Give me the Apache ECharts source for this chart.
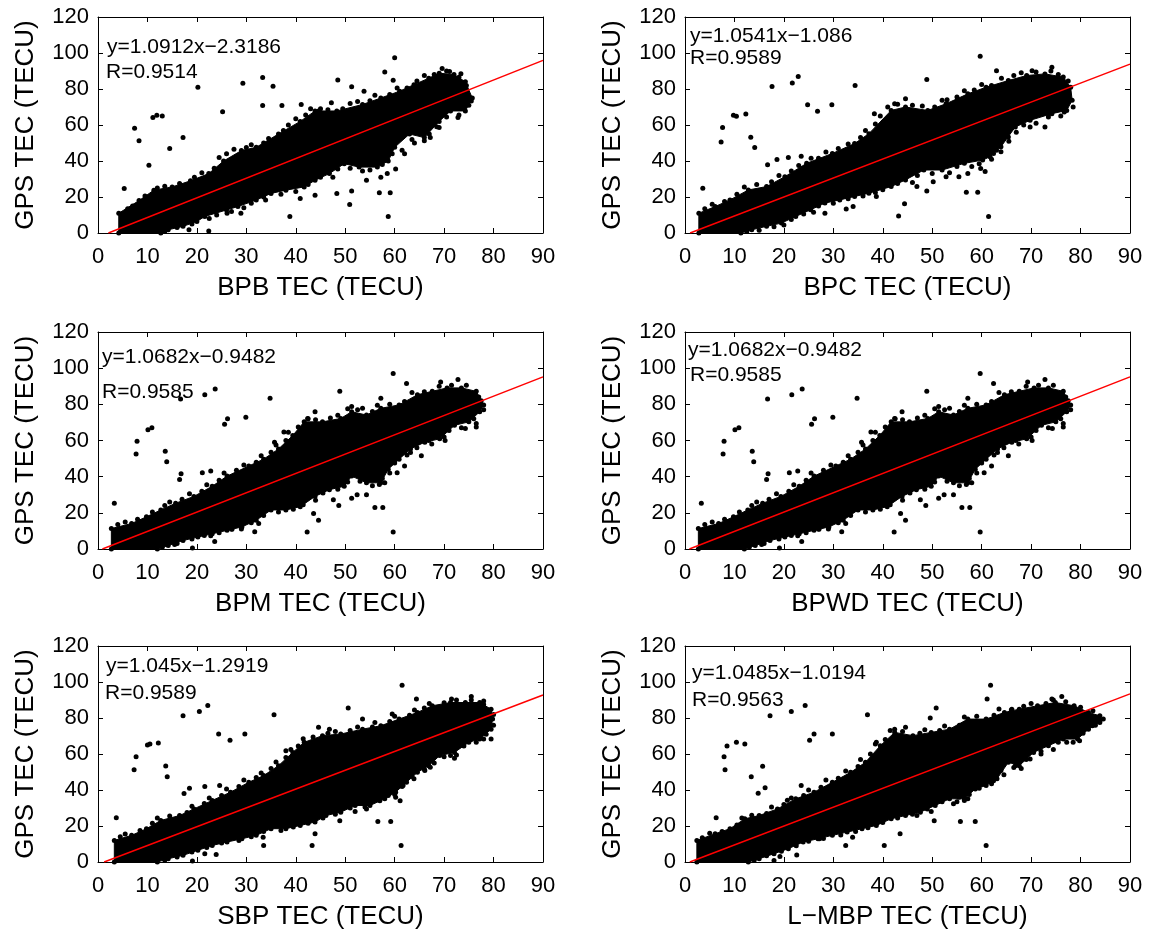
<!DOCTYPE html>
<html><head><meta charset="utf-8">
<script src="https://cdn.jsdelivr.net/npm/echarts@6/dist/echarts.min.js"></script>
<style>html,body{margin:0;padding:0;background:#fff}#c{width:1150px;height:931px}</style>
</head><body><div id="c"></div>
<script>
// ---------- data ----------
const xAxisNames = ['BPB TEC (TECU)','BPC TEC (TECU)','BPM TEC (TECU)','BPWD TEC (TECU)','SBP TEC (TECU)','L\u2212MBP TEC (TECU)'];
const yAxisName = 'GPS TEC (TECU)';
const equations = ['y=1.0912x\u22122.3186','y=1.0541x\u22121.086','y=1.0682x\u22120.9482','y=1.0682x\u22120.9482','y=1.045x\u22121.2919','y=1.0485x\u22121.0194'];
const rValues = ['R=0.9514','R=0.9589','R=0.9585','R=0.9585','R=0.9589','R=0.9563'];
const xTicks = [0,10,20,30,40,50,60,70,80,90];
const yTicks = [0,20,40,60,80,100,120];

// ---- BPB ----
const coreBPB = [[4.2,0],[4.2,11],[8.3,18],[11.3,23.8],[15,25.6],[18.7,29],[22.4,33],[25.4,40],[29,45.8],[32,47.6],[36.5,55],[40.9,62],[43.9,67.8],[48.3,67.8],[53.5,71.4],[57.2,75],[61,78.8],[63.9,82.4],[66.9,86],[69,88.8],[72,88],[74.3,84],[75.7,75],[74.3,67.8],[71.3,67.8],[69,62],[66,53],[63,55],[60,47.6],[58.7,40],[56.5,36.6],[52.8,36.6],[49.8,38.5],[46.8,33],[43.9,29.3],[41.7,25.6],[38,23.8],[35,22],[32,18.3],[28.3,14.7],[26,12.8],[21.6,9.2],[20,6.4],[17.2,3.7],[14.2,1.8],[12.7,0]];
const edgeBPB = [[6,13.5],[7,15],[9.5,20.5],[12,25],[13.5,26],[16.5,27.5],[19.5,31],[21,33.5],[23.5,36],[24.5,42],[26,44],[27.5,46.5],[30,47.5],[31,49],[33.5,50],[34.5,52.5],[37.5,57],[38.5,60],[40,63.5],[42,65.5],[43,69],[45,69],[46.5,68.5],[49.5,69],[51,72],[52.5,73],[55,73.5],[56,76.5],[59,77],[60.5,80.5],[62.5,80.5],[64.5,84.5],[66,87.5],[68,88],[70.5,90],[73,86.5],[74.5,82],[75,71],[73,65.5],[70.5,64.5],[68.5,59],[67,55],[65,56.5],[63.5,52],[61.5,46],[59.5,44],[57.5,38],[55,35],[53.5,34.5],[51,36],[48.5,35.5],[47.5,31],[45,31],[42.5,27],[40,23],[37,21.5],[33.5,20],[31,16.5],[29.5,14],[27,12],[24,10],[22.5,8],[19,5],[16,3],[13.5,0.8]];
const ptsBPB = [[5.3,24.7],[7.4,58.2],[8.3,51.3],[10.3,37.7],[11.1,64.1],[11.9,65.4],[13,65],[14.5,47],[17.2,53.1],[20.2,81],[25.2,67.4],[29.3,83.2],[33.3,70.9],[33.3,86.4],[35.4,81.5],[37.2,70.9],[41.1,71.4],[38.8,9.2],[60,97.4],[58,89.4],[59.7,84.8],[48.5,85],[51.3,81.3],[58.7,9.2],[59.1,22.3],[56.9,22.3],[50.9,15.8],[53.8,78.8],[69.6,91.4],[71.1,89.7],[73.4,88.5],[22.4,1.1],[18.4,1.8],[26.1,11],[28.9,11],[51.3,23.3],[48.3,22],[43.9,21],[40.9,19.2],[33.9,18.3],[54.3,29.3],[57.2,31],[65.4,60.4],[67.2,53.1],[69,58.6],[66,51.3],[72.8,64.1],[75.5,73.3],[54.3,55.9],[44.6,67.8],[47.2,72.3],[58.5,33],[60.2,35.5],[64,50],[62,44]];
const fitBPB = [[2.1,0],[90,95.9]];

// ---- BPC ----
const coreBPC = [[2.8,0],[2.8,11],[6.1,14.7],[9.1,18.4],[12.8,23.9],[16.5,25.8],[20.2,31.3],[24.6,38.7],[29.8,44.2],[34.3,49.7],[37.2,55.2],[41.7,68.1],[44.6,70],[49.1,68.1],[52.8,71.8],[57.2,77.3],[60.9,81],[65.4,84.7],[69.1,87.5],[72.8,88.4],[76.5,86.6],[78,81],[78.3,73.7],[77.2,68.1],[74.2,66.3],[69.8,62.6],[66.8,58.9],[63.9,47.9],[61.7,42.4],[60.2,40.5],[56.5,38.7],[52,35],[48.3,35],[44.6,29.5],[41.7,25.8],[37.2,22.1],[34.3,20.3],[31.3,18.4],[28.3,16.6],[25.4,12.9],[22.4,9.2],[19.5,5.5],[16.5,3.7],[13.5,1.8],[11.3,0]];
const edgeBPC = [[4,13.5],[5.5,16],[8,17.5],[10.5,21.5],[12,25.5],[14.5,27],[17.5,28.5],[19,32],[21.5,34.5],[23,37.5],[25.5,41.5],[27,41.5],[28.5,45],[31,47],[33,49.5],[35.5,53],[36.5,57],[38.5,60.5],[39.5,65],[41,70],[43,71.5],[46,71],[48,70.5],[50.5,70],[53,74],[55,75.5],[56.5,79],[58.5,79.5],[60,82.5],[62,82],[64,86],[66.5,87.5],[68,89],[71,89.5],[74,90],[75.5,88],[77.5,84.5],[78.5,70],[76,65],[73.5,64.5],[71,61],[68.5,60],[67,56],[65.5,51],[63,46],[62,41],[59.5,38.5],[58,37],[55,37],[53.5,33.5],[50,33],[47,32],[46,28],[43,27.5],[40,24],[38.5,22.5],[36,20.5],[33,19],[30,16.5],[27,15],[26,11.5],[24,10.5],[21.5,7.5],[20,4.5],[18,3.5],[15,1.5],[12.5,0.8]];
const ptsBPC = [[3.6,24.9],[7.3,50.6],[7.6,58.6],[9.8,65.4],[10.4,64.8],[12.3,66.1],[13.3,53.2],[14.1,47.5],[16.7,37.9],[17.6,81.4],[18.6,40.9],[20.9,42],[21.7,83.4],[22.9,86.9],[23.5,42.7],[24.8,71.3],[26.8,67.6],[29.7,71.3],[34.4,82],[28.3,11],[32.6,13.4],[34,14.7],[43.2,9.4],[44.4,16.2],[48.9,23.4],[48.9,85.3],[59.7,98.2],[61.4,9.2],[59.2,22.7],[56.9,22.7],[63,90.2],[70.2,90.2],[74.2,92.1],[60.7,34.1],[59.8,35.9],[57.2,33.1],[55.4,31.3],[52.8,31.3],[50.2,28.5],[46.9,25.8],[40.9,26.7],[38.7,20.3],[29.8,22.5],[62.4,44.2],[63.9,45.1],[65.4,53.4],[69.8,58.9],[72.8,58.9],[73.5,66.3],[76.7,67.2],[70.5,79.2],[52,73.7],[44.6,74.6],[42.4,71.8],[38.3,66.3]];
const fitBPC = [[1.03,0],[90,93.8]];

// ---- BPM ----
const coreBPM = [[2.7,0],[2.7,11.3],[6.8,14.1],[9.8,17.8],[12.7,21.6],[15.7,25.3],[19.4,29.1],[23.1,34.7],[26.1,40.3],[30.5,45.9],[33.5,49.7],[36.5,55.3],[39.4,62.8],[41.7,70.3],[45.4,70.3],[49.1,72.2],[51.3,75.9],[54.3,74.1],[57.2,77.8],[60.9,79.7],[64.6,85.3],[67.6,87.2],[70.6,89.1],[73.5,89.1],[76.5,87.2],[78,79.7],[77.2,75.9],[75,70.3],[72.1,68.4],[69.1,60.9],[66.1,59.1],[63.2,55.3],[60.9,49.7],[58.7,44.1],[57.2,36.6],[54.3,36.6],[51.3,40.3],[49.8,34.7],[46.8,32.8],[43.9,29.1],[40.9,23.4],[38,21.6],[35,21.6],[32,15.9],[29.1,12.2],[26.1,10.3],[23.1,8.4],[20.2,6.6],[17.2,4.7],[14.2,1.9],[12,0]];
const edgeBPM = [[4,13.5],[5.5,15],[8,16.5],[11,20.5],[13.5,24],[14.5,26],[17,27.5],[18.5,30.5],[21,32],[22,35.5],[24.5,38],[25.5,42],[28,43.5],[29.5,46.5],[32,48],[33,51.5],[35,53.5],[36,57.5],[38,60],[38.5,64.5],[40.5,67.5],[42.5,72],[44,71.5],[47,72.5],[48.5,74],[50.5,77.5],[52.5,77],[55.5,76],[56.5,79.5],[59,80],[62,81.5],[63.5,86.5],[66,87],[69,90],[71.5,90.5],[74.5,90.5],[77,84],[77.5,82],[78,77],[76,72],[73.5,67],[71,65.5],[70,62],[67.5,58],[64.5,56],[62.5,52],[60,47.5],[59,42],[57.5,39],[55.5,35],[53,37.5],[50.5,37],[48.5,33],[45.5,31],[44,27],[41.5,24.5],[39.5,22],[36.5,20.5],[33.5,18.5],[31,14.5],[29,11],[27,11],[24.5,9],[21.5,7.5],[19,5.5],[16,3],[13,1],[15.5,2.5]];
const ptsBPM = [[3.3,25.3],[7.7,52.5],[7.9,59.6],[10.1,66],[10.9,67.1],[13.6,54],[13.9,48.2],[16.5,38.4],[16.8,41.6],[16.7,83],[21.1,42.2],[22.8,43.1],[21.6,85.3],[23.7,88.5],[25.6,69],[26.2,72],[29.9,72.8],[34.8,83.4],[31.7,9.6],[32.5,14.1],[27.1,10.9],[22.8,7.3],[23.6,4.1],[19.1,0.5],[42.3,9.4],[44.6,15.9],[48.7,24],[48.9,87.2],[59.7,97.1],[59.7,9.4],[57.6,22.9],[56,22.9],[62.4,91.5],[69.3,92.3],[72.8,93.8],[62,45.9],[60.5,42.2],[58,36.6],[56.9,35.6],[52.4,30],[54.3,30],[51.3,28.1],[47.6,27.2],[43.6,19.7],[31.3,15.9],[63.2,53.4],[65.4,51.6],[66.9,60],[70.2,60],[74.3,66.6],[76.5,69.4],[76.5,67.5],[51.3,78.8],[53.5,77.8],[57.2,83.4],[43.9,75.9],[42.4,72.2],[37.6,64.7],[35.7,59.1]];
const fitBPM = [[0.89,0],[90,95.2]];

// ---- BPWD (the picture shows the same cloud as BPM) ----
const coreBPWD = coreBPM.slice();
const edgeBPWD = edgeBPM.slice();
const ptsBPWD = ptsBPM.slice();
const fitBPWD = [[0.89,0],[90,95.2]];

// ---- SBP ----
const coreSBP = [[3.3,0],[3.3,12],[6.8,14.8],[9.8,18.5],[12.7,23.1],[16.5,25.8],[19.4,29.5],[23.1,34.2],[26.8,38.8],[30.5,44.3],[33.5,48],[36.5,53.5],[39.4,60.9],[41.7,66.5],[45.4,70.2],[49.1,71.1],[53.5,73.8],[57.2,75.7],[60.9,79.4],[64.6,83.1],[67.6,86.8],[71.3,88.6],[74.3,88.6],[77.2,88.6],[79.5,84.9],[79.8,79.4],[79.5,73.8],[77.2,68.3],[75,66.5],[72.1,60.9],[69.1,59.1],[66.9,53.5],[64.6,49.8],[62.4,44.3],[60.2,38.8],[58,35.1],[55,31.4],[52,31.4],[49.1,27.7],[46.1,25.8],[43.9,22.2],[40.9,20.3],[38,18.5],[35,18.5],[32,14.8],[29.1,12.9],[26.1,11.1],[23.1,9.2],[20.2,6.5],[17.2,3.7],[14.2,1.8],[12,0]];
const edgeSBP = [[4.5,14],[5.5,15.5],[8.5,17.5],[11,21.5],[12,24.5],[14.5,25.5],[18,27.5],[19,31],[21.5,32.5],[22.5,35.5],[25,37],[26,40.5],[28.5,42],[29.5,45.5],[32,47],[33,49.5],[35,52],[36,55.5],[38,58],[39,62.5],[40.5,64.5],[41.5,68.5],[43.5,69.5],[46.5,71.5],[48,72.5],[51,73],[52.5,75],[55.5,75],[56,77.5],[59,78],[60,81],[63,81.5],[64,84.5],[66,85.5],[67,88],[70,88.5],[72.5,90],[75.5,90],[78,87.5],[80,82],[80,76],[78.5,71],[76.5,66.5],[74,64.5],[72.5,59.5],[70,58.5],[68,55],[66,51.5],[63.5,47.5],[61.5,42],[60,37.5],[57,34],[54,30.5],[51,30],[48,26.5],[45.5,24.5],[42.5,21.5],[39.5,19.5],[37,17.5],[33.5,17],[31,14],[28.5,12],[25,10.5],[22,8],[19,5.5],[16,2.8],[13.5,1]];
const ptsSBP = [[3.7,24.6],[7.3,51.3],[7.7,58.5],[10,65],[10.5,65.5],[12.2,66.1],[13.7,53.4],[14,47.4],[17.4,38],[17.2,81.2],[18.5,41],[20.5,83.6],[22.2,86.9],[21.6,41.9],[24.6,42.5],[24.4,71.1],[26.7,67.7],[29.7,71.1],[35.6,81.8],[33.5,9.2],[33.4,13.8],[27.6,13.8],[23.9,4.1],[21.6,4.6],[19.1,0.6],[43.3,9.2],[43.9,15.7],[48.9,22.9],[50.6,85.5],[61.5,98.2],[61.3,9.2],[59.2,22.5],[56.6,22.5],[64.4,90.5],[71.5,90.5],[75.5,91.9],[78,89.5],[61.1,34],[60.2,36],[58.7,36.9],[57.2,38.8],[54.3,29.5],[52,28.1],[47.6,28.1],[45.4,25.8],[61.7,42.5],[63.9,46.2],[66.1,50.8],[67.2,52.6],[71.3,59.1],[72.1,57.6],[76.5,69.2],[78,68.3],[79.5,68.3],[53.5,79.4],[59.5,82.2],[44.6,74.8],[46.8,73.8],[38,61.8]];
const fitSBP = [[1.24,0],[90,92.8]];

// ---- L-MBP ----
const coreLMBP = [[2.4,0],[2.4,12],[6.1,15.7],[9.1,18.5],[12.1,24],[15,25.8],[18.7,29.5],[22.4,35.1],[26.1,38.8],[29.8,44.3],[33.5,49.8],[36.5,55.4],[39.5,64.6],[42.4,72],[46.1,70.2],[49.8,72],[53.5,73.8],[57.2,79.4],[60.9,79.4],[64.6,83.1],[67.6,84.9],[71.3,86.8],[74.9,88.6],[78.7,86.8],[81.6,83.1],[83.9,81.2],[83.9,77.5],[81.6,73.8],[79.4,68.3],[76.5,68.3],[73.5,64.6],[70.5,60.9],[67.6,53.5],[65.4,55.4],[63.1,46.2],[60.9,42.5],[58.7,40.6],[56.5,35.1],[53.5,35.1],[50.6,31.4],[47.6,27.7],[44.6,25.8],[41.7,24],[38.7,20.3],[35.8,18.5],[32.8,16.6],[29.8,14.8],[26.9,12.9],[23.9,11.1],[20.9,7.4],[18,4.6],[15,1.8],[12.8,0]];
const edgeLMBP = [[3.5,13.5],[5,16],[7.5,17],[10.5,20.5],[11.5,24.5],[13.5,26],[16.5,27],[17.5,30.5],[20,32],[21.5,35.5],[24,37],[25,40],[27.5,41.5],[28.5,45.5],[31,46.5],[32.5,50.5],[35,53],[35.5,57],[37.5,60],[38.5,65.5],[40.5,68],[41.5,73],[44,72.5],[47.5,71.5],[48.5,73.5],[51.5,73],[52.5,75.5],[55.5,76],[56.5,80.5],[59,81],[62.5,81.5],[63.5,85],[66,84.5],[68.5,86.5],[70,88],[73,88],[74.5,90],[77,89],[80,86],[82.5,84],[84,79],[83,76],[80.5,71.5],[78.5,66.5],[75.5,66.5],[74.5,62.5],[72,61.5],[69,57],[68,52],[66.5,52.5],[64.5,48.5],[62,43.5],[59.5,41],[57.5,37.5],[55,33.5],[52,33.5],[49,29.5],[46,26.5],[43,24.5],[40,22],[37,19],[34.5,17],[31.5,15],[28,13],[25,11.5],[22.5,9],[19.5,6],[16.5,3.5],[14,1]];
const ptsLMBP = [[6.3,24.6],[8.1,51.3],[7.9,58.5],[8.5,64.4],[10.4,66.5],[12.1,65.5],[13.4,47.4],[15.7,53.2],[14.8,38.2],[16.2,41.2],[17.2,81.2],[20.7,34.3],[21.5,83.6],[24.3,86.9],[23.5,42.5],[25.2,67.7],[26.1,71.1],[29.8,71.1],[36.9,81.8],[32.5,9.2],[33.9,13.8],[27.2,12.9],[22.6,3.9],[19.2,3.1],[18,0.9],[40.3,9.2],[43.5,15.7],[50.4,22.9],[50.8,85.5],[61.8,98.2],[60.9,9.2],[58.7,22.5],[55.7,22.5],[61.1,90.5],[74.2,90.5],[76.2,91.9],[49.6,80],[66.1,84.9],[56.5,34.2],[57.2,35.1],[55.4,36],[54.3,32.3],[49.8,28.1],[46.9,25.8],[62.4,45.2],[60.9,48.9],[63.9,50.8],[66.8,53.5],[69.8,57.2],[72,60],[74.9,67.4],[77.2,66.5],[79.8,67.4],[82.4,75.7],[84.6,79.4],[42.4,73.8],[44.6,74.8],[38.7,66.5]];
const fitLMBP = [[0.97,0],[90,93.4]];

const cores = [coreBPB, coreBPC, coreBPM, coreBPWD, coreSBP, coreLMBP];
const edges = [edgeBPB, edgeBPC, edgeBPM, edgeBPWD, edgeSBP, edgeLMBP];
const points = [ptsBPB, ptsBPC, ptsBPM, ptsBPWD, ptsSBP, ptsLMBP];
const fits = [fitBPB, fitBPC, fitBPM, fitBPWD, fitSBP, fitLMBP];

// ---------- layout ----------
const grids = [
  {left:98, top:17, width:445, height:216},
  {left:685, top:17, width:445, height:216},
  {left:98, top:332, width:445, height:217},
  {left:685, top:332, width:445, height:217},
  {left:98, top:646, width:445, height:217},
  {left:685, top:646, width:445, height:217}
];
const eqPos = [[107,47,106,72],[690,36,690,58],[102,357,102,392],[688,350,690,375],[106,666,105,693],[692,673,692,700]];
const FONT = '"Liberation Sans", Arial, Helvetica, sans-serif';

const option = {animation:false, backgroundColor:'#fff', grid:[], xAxis:[], yAxis:[], series:[], graphic:[]};
const xMin = xTicks[0], xMax = xTicks[xTicks.length-1], xInt = xTicks[1]-xTicks[0];
const yMin = yTicks[0], yMax = yTicks[yTicks.length-1], yInt = yTicks[1]-yTicks[0];
const lineCol = '#000';

grids.forEach((g, i) => {
  option.grid.push(Object.assign({containLabel:false}, g));
  const common = {min:xMin, max:xMax, interval:xInt, gridIndex:i, splitLine:{show:false},
    axisLine:{show:true, onZero:false, lineStyle:{color:lineCol, width:1}},
    axisTick:{show:true, inside:true, length:5, lineStyle:{color:lineCol}}};
  option.xAxis.push(Object.assign({}, common, {type:'value', position:'bottom', name:xAxisNames[i], nameLocation:'middle', nameGap:42,
    nameTextStyle:{fontSize:26, color:'#000', fontFamily:FONT},
    axisLabel:{show:true, fontSize:22, color:'#000', fontFamily:FONT, margin:13}}));
  option.xAxis.push(Object.assign({}, common, {type:'value', position:'top', axisLabel:{show:false}}));
  const ycommon = {min:yMin, max:yMax, interval:yInt, gridIndex:i, splitLine:{show:false},
    axisLine:{show:true, onZero:false, lineStyle:{color:lineCol, width:1}},
    axisTick:{show:true, inside:true, length:5, lineStyle:{color:lineCol}}};
  option.yAxis.push(Object.assign({}, ycommon, {type:'value', position:'left', name:yAxisName, nameLocation:'middle', nameGap:59, nameRotate:90,
    nameTextStyle:{fontSize:26, color:'#000', fontFamily:FONT},
    axisLabel:{show:true, fontSize:22, color:'#000', fontFamily:FONT, margin:9}}));
  option.yAxis.push(Object.assign({}, ycommon, {type:'value', position:'right', axisLabel:{show:false}}));

  const core = cores[i];
  option.series.push({type:'custom', xAxisIndex:2*i, yAxisIndex:2*i, data:core, silent:true, z:2,
    encode:{x:0, y:1},
    renderItem:function(params, api){
      if (params.dataIndex !== 0) return null;
      return {type:'polygon', shape:{points:core.map(p => api.coord(p))}, style:{fill:'#000', stroke:'#000', lineWidth:1}};
    }});
  option.series.push({type:'scatter', xAxisIndex:2*i, yAxisIndex:2*i, data:core.concat(edges[i], points[i]), symbolSize:5, silent:true, z:3,
    itemStyle:{color:'#000', opacity:1}});
  option.series.push({type:'line', xAxisIndex:2*i, yAxisIndex:2*i, data:fits[i], symbol:'none', silent:true, z:5,
    lineStyle:{color:'#ff0000', width:1.5}});

  const p = eqPos[i];
  option.graphic.push({type:'text', x:p[0], y:p[1], z:10, style:{text:equations[i], font:'21px '+FONT, fill:'#000', verticalAlign:'middle'}});
  option.graphic.push({type:'text', x:p[2], y:p[3], z:10, style:{text:rValues[i], font:'21px '+FONT, fill:'#000', verticalAlign:'middle'}});
});

const chart = echarts.init(document.getElementById('c'), null, {renderer:'canvas'});
chart.setOption(option);
</script></body></html>
